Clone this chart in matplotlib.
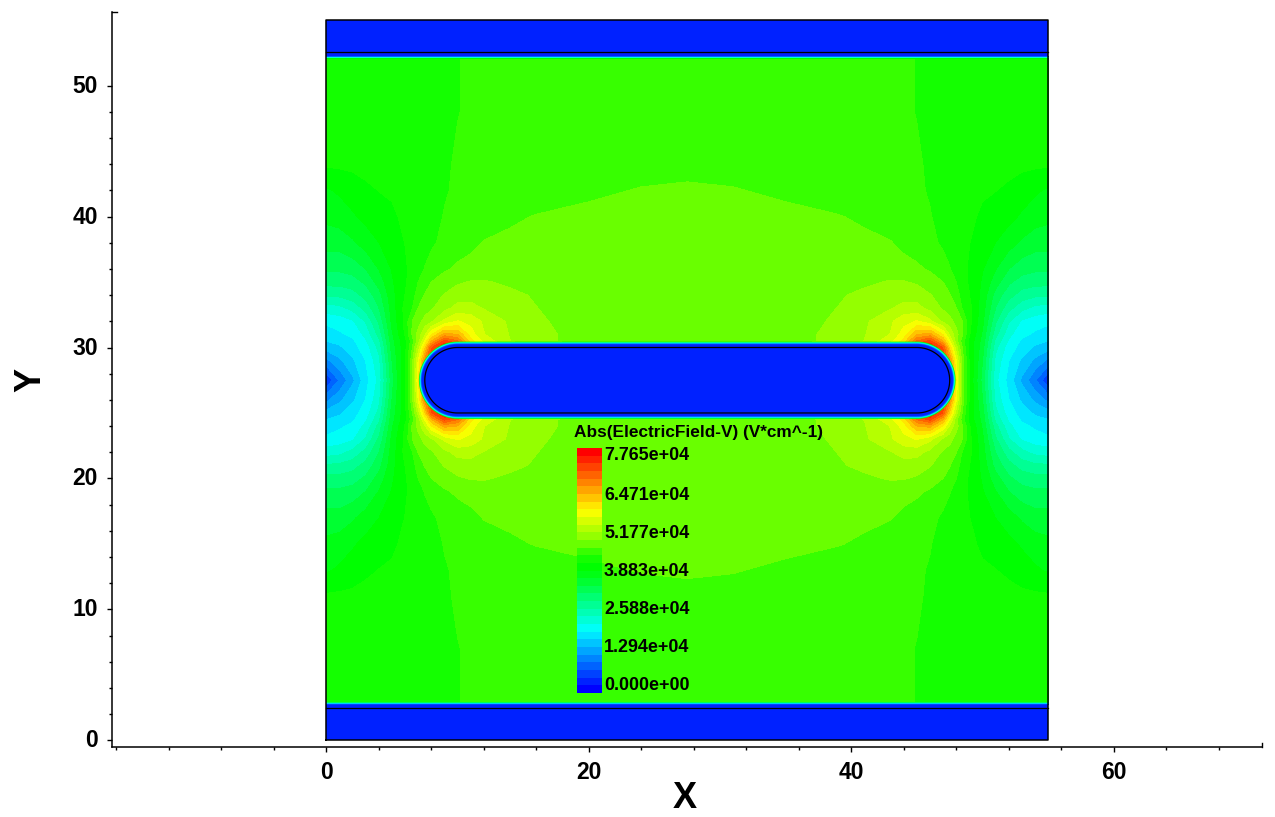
import colorsys
import numpy as np
import matplotlib
matplotlib.use("Agg")
import matplotlib.pyplot as plt
from matplotlib.colors import ListedColormap, BoundaryNorm
from matplotlib.patches import Polygon
from matplotlib.ticker import MultipleLocator, FixedLocator
from matplotlib.transforms import ScaledTranslation

FIELD_MAX = 7.765  # 1e4 V/cm
BAND_COUNT = 32
LEGEND_TITLE = "Abs(ElectricField-V) (V*cm^-1)"
LEGEND_LABELS = ["0.000e+00", "1.294e+04", "2.588e+04", "3.883e+04", "5.177e+04", "6.471e+04", "7.765e+04"]
LEGEND_LABEL_PX = [686, 648, 610, 572, 534, 496, 456]

# quadrant of |E| (in 1e4 V/cm); mirrored about x=27.5 and y=27.5
quad_x = [0, 1, 2, 3, 4, 5, 6, 6.5, 7, 7.5, 8, 9, 10, 11, 12, 14, 16, 18, 20, 24, 27.5]
quad_y = [27.5, 29, 30, 30.5, 31, 32, 33, 34, 35, 36, 38, 40, 42, 44, 48, 52]
quad_v = [
 [.5,1.0,1.4,1.85,2.25,3.3,4.1,4.7,5.8,6.6,7,7,7,7,6,5.5,5,5,5,5,5],
 [1.15,1.4,1.65,1.95,2.35,3.4,4.1,4.7,5.6,6.6,7.2,7.6,7.6,6.6,6,5.5,5,5,5,5,5],
 [1.55,1.65,1.85,2.05,2.5,3.5,4.05,4.55,5.2,6.0,7.0,7.6,7.4,6.3,5.8,5.35,5.05,4.95,4.85,4.75,4.75],
 [1.7,1.78,1.9,2.15,2.6,3.55,4.05,4.45,4.95,5.6,6.3,7.1,6.8,5.9,5.5,5.1,4.95,4.83,4.77,4.72,4.72],
 [1.8,1.9,2.0,2.25,2.75,3.6,4.15,4.6,4.95,5.3,5.8,6.4,6.3,5.7,5.35,5.08,4.95,4.83,4.75,4.7,4.7],
 [2.0,2.05,2.15,2.45,2.95,3.7,4.2,4.6,4.75,4.95,5.05,5.4,5.6,5.5,5.3,5.05,4.9,4.8,4.72,4.68,4.68],
 [2.3,2.35,2.5,2.75,3.15,3.75,4.2,4.33,4.62,4.72,4.82,5.02,5.18,5.18,5.08,4.93,4.86,4.76,4.7,4.67,4.67],
 [2.7,2.72,2.8,3.0,3.3,3.8,4.13,4.28,4.45,4.63,4.72,4.87,4.98,5.0,4.98,4.92,4.82,4.72,4.68,4.67,4.67],
 [3.0,3.0,3.05,3.2,3.5,3.85,4.1,4.2,4.37,4.47,4.61,4.72,4.82,4.87,4.88,4.8,4.72,4.68,4.66,4.66,4.66],
 [3.2,3.2,3.25,3.4,3.65,3.9,4.1,4.17,4.28,4.38,4.46,4.58,4.65,4.68,4.7,4.7,4.67,4.66,4.65,4.65,4.65],
 [3.5,3.5,3.6,3.75,3.88,4.02,4.13,4.18,4.22,4.28,4.33,4.43,4.5,4.56,4.62,4.65,4.66,4.66,4.66,4.66,4.66],
 [3.7,3.75,3.85,3.95,4.02,4.08,4.18,4.2,4.23,4.26,4.29,4.38,4.44,4.48,4.52,4.58,4.62,4.64,4.65,4.66,4.67],
 [3.85,3.92,4.0,4.08,4.13,4.16,4.2,4.22,4.24,4.26,4.28,4.35,4.4,4.42,4.44,4.47,4.51,4.55,4.58,4.62,4.63],
 [4.16,4.17,4.18,4.2,4.21,4.22,4.24,4.25,4.26,4.27,4.28,4.33,4.4,4.42,4.43,4.46,4.48,4.5,4.52,4.55,4.57],
 [4.2,4.2,4.21,4.22,4.23,4.25,4.27,4.28,4.29,4.3,4.31,4.33,4.36,4.4,4.42,4.44,4.46,4.47,4.48,4.5,4.5],
 [4.2,4.2,4.21,4.22,4.23,4.25,4.27,4.28,4.29,4.3,4.31,4.33,4.36,4.4,4.42,4.44,4.46,4.47,4.48,4.5,4.5],
]
# rows through the top plate's sheath (uniform in x)
plate_y = [52.05, 52.12, 52.2, 52.3, 55]
plate_v = [3.9, 2.0, 0.7, 0.3, 0.3]
# nested capsule shells around the central conductor: radius, colour band
shell_r = [2.95, 2.91, 2.87, 2.83, 2.78, 2.72]
shell_band = [16, 12, 8, 5, 2, 1]

# colour bands of the legend
band_rgb = [colorsys.hsv_to_rgb((240 * (1 - i / (BAND_COUNT - 1))) / 360, 1, 1) for i in range(BAND_COUNT)]
band_rgb[15] = (0, 1, 20 / 255)
band_rgb[16] = (0, 1, 0)
band_rgb[17] = (20 / 255, 1, 0)
band_rgb[18] = (55 / 255, 1, 0)
band_rgb[19] = (105 / 255, 1, 0)
cmap = ListedColormap(band_rgb)
levels = np.linspace(0, FIELD_MAX, BAND_COUNT + 1)
norm = BoundaryNorm(levels, BAND_COUNT)

# assemble the full field by mirroring the quadrant
qx = np.array(quad_x, float)
qy = np.concatenate([quad_y, plate_y])
qv = np.vstack([np.array(quad_v, float), np.tile(np.array(plate_v)[:, None], (1, len(quad_x)))])
full_x = np.concatenate([qx, 55 - qx[-2::-1]])
full_y = np.concatenate([55 - qy[:0:-1], qy])
right = np.hstack([qv, qv[:, -2::-1]])
full_v = np.vstack([right[:0:-1], right])

W, H = 1275, 817
plt.rcParams['font.family'] = ['Liberation Sans', 'DejaVu Sans']
fig = plt.figure(figsize=(W / 100, H / 100), dpi=100)
L, R, T, B = 111.7, 1262, 12.3, 747
ax = fig.add_axes([L / W, 1 - B / H, (R - L) / W, (B - T) / H])
ax.set_xlim(-16.36, 71.3)
ax.set_ylim(-0.51, 55.6)

ax.contourf(full_x, full_y, full_v, levels=levels, cmap=cmap, norm=norm, antialiased=False, zorder=1)


def capsule(radius, **kw):
    t = np.linspace(-np.pi / 2, np.pi / 2, 90)
    xs = np.concatenate([45 + radius * np.cos(t), 10 - radius * np.cos(t)])
    ys = np.concatenate([27.5 + radius * np.sin(t), 27.5 + radius * np.sin(t[::-1])])
    ax.add_patch(Polygon(np.column_stack([xs, ys]), closed=True, **kw))


for r, b in zip(shell_r, shell_band):
    capsule(r, facecolor=band_rgb[b], edgecolor='none', linewidth=0, zorder=2)
capsule(2.5, facecolor='none', edgecolor='black', linewidth=0.9, zorder=3)
ax.plot([0, 55, 55, 0, 0], [0, 0, 55, 55, 0], color='black', lw=1.1, zorder=3)
ax.plot([0, 55], [2.45, 2.45], color='black', lw=0.9, zorder=3)
ax.plot([0, 55], [52.55, 52.55], color='black', lw=0.9, zorder=3)

for s in ('top', 'right'):
    ax.spines[s].set_visible(False)
for s in ('left', 'bottom'):
    ax.spines[s].set_linewidth(1.1)
ax.xaxis.set_major_locator(MultipleLocator(20))
ax.xaxis.set_minor_locator(MultipleLocator(4))
ax.yaxis.set_major_locator(MultipleLocator(10))
ax.yaxis.set_minor_locator(FixedLocator(np.arange(2, 50, 2)))
ax.tick_params(which='major', length=3.6, width=1.0, labelsize=16.5, pad=6.5)
ax.tick_params(which='minor', length=2.0, width=1.0)
up = ScaledTranslation(0, 2 / 100, fig.dpi_scale_trans)
for t in ax.get_xticklabels() + ax.get_yticklabels():
    t.set_fontweight('bold')
for t in ax.get_yticklabels():
    t.set_transform(t.get_transform() + up)
# small inward caps at the free ends of the two axis lines
ax.plot([0, 5 / (R - L)], [1, 1], transform=ax.transAxes, color='black', lw=1.0, clip_on=False)
ax.plot([1, 1], [0, 4 / (B - T)], transform=ax.transAxes, color='black', lw=1.0, clip_on=False)
fig.text(685 / W, 1 - 799 / H, 'X', fontsize=26, fontweight='bold', ha='center', va='center')
fig.text(31 / W, 1 - 380 / H, 'Y', fontsize=26, fontweight='bold', ha='center', va='center', rotation=90)

# legend bar
cax = fig.add_axes([577 / W, 1 - 693 / H, 25 / W, 245 / H])
cax.pcolormesh([0, 1], levels, np.arange(BAND_COUNT)[:, None] * levels[1] + levels[1] / 2, cmap=cmap, norm=norm)
cax.axis('off')
fig.text(574 / W, 1 - 432 / H, LEGEND_TITLE, fontsize=12.4, fontweight='bold', ha='left', va='center')
for lab, px in zip(LEGEND_LABELS, LEGEND_LABEL_PX):
    fig.text(604 / W, 1 - px / H, lab, fontsize=12.9, fontweight='bold', ha='left', va='center')

fig.savefig('out.png', dpi=100)
